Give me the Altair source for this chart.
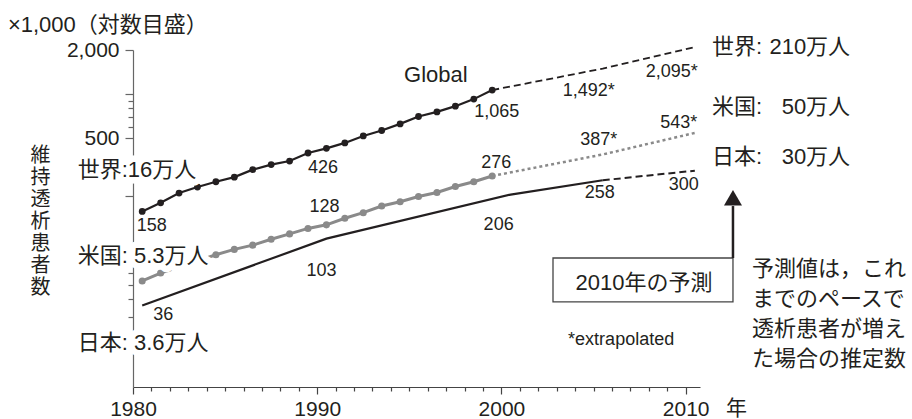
import altair as alt
import pandas as pd

# Maintenance dialysis patients (thousands of people), log scale
global_years = list(range(1980, 2000))
global_values = [158, 181, 211, 232, 252, 271, 305, 330, 349, 396,
                 426, 464, 518, 564, 626, 703, 756, 827, 924, 1065]
global_proj_years = [1999, 2005, 2010]
global_proj_values = [1065, 1492, 2095]

us_years = [1980, 1981, 1984, 1985, 1986, 1987, 1988, 1989, 1990,
            1991, 1992, 1993, 1994, 1995, 1996, 1997, 1998, 1999]
us_values = [53, 60, 80, 87, 93, 102, 111, 121, 128,
             142, 155, 172, 184, 200, 213, 234, 252, 276]
us_proj_years = [1999, 2005, 2010]
us_proj_values = [276, 387, 543]

japan_years = [1980, 1990, 2000, 2005]
japan_values = [36, 103, 206, 258]
japan_proj_years = [2005, 2010]
japan_proj_values = [258, 300]

y_ticks = [2000, 1000, 900, 800, 700, 600, 500, 200, 60, 50, 40, 30]
x_ticks = list(range(1980, 2011))

start_notes = ["世界:16万人", "米国: 5.3万人", "日本: 3.6万人"]
end_names = ["世界:", "米国:", "日本:"]
end_totals = ["210万人", "50万人", "30万人"]
y_title_chars = list("維持透析患者数")
note_lines = "予測値は，これ\nまでのペースで\n透析患者が増え\nた場合の推定数"

LATIN = "Liberation Sans"
JP = "Liberation Sans, Noto Sans CJK JP"
INK = "#231f20"
GREY = "#8a8a8a"


def frame(series, kind, years, values):
    return pd.DataFrame({"series": series, "kind": kind,
                         "year": years, "value": values})


data = pd.concat([
    frame("Global", "actual", global_years, global_values),
    frame("Global", "proj", global_proj_years, global_proj_values),
    frame("US", "actual", us_years, us_values),
    frame("US", "proj", us_proj_years, us_proj_values),
    frame("Japan", "actual", japan_years, japan_values),
    frame("Japan", "proj", japan_proj_years, japan_proj_values),
], ignore_index=True)

x_axis = alt.Axis(
    values=x_ticks,
    labelExpr="datum.value % 10 == 0 ? '' + datum.value : ''",
    tickSize={"condition": {"test": "datum.value % 10 == 0", "value": 7}, "value": 4},
    grid=False, labelFont=LATIN, labelFontSize=21, labelColor=INK,
    labelPadding=4, labelOverlap=False, labelFlush=False,
    domainColor="#444", tickColor="#444", domainWidth=1.2, tickWidth=1.2,
    title="年", titleFont=JP, titleFontSize=21, titleFontWeight="normal",
    titleColor=INK, titleX=603, titleY=21, titleAlign="center",
    titleBaseline="middle",
)
y_axis = alt.Axis(
    values=y_ticks,
    labelExpr="datum.value == 2000 || datum.value == 500 ? format(datum.value, ',') : ''",
    tickSize={"condition": {"test": "indexof([2000, 1000, 500, 200], datum.value) >= 0",
                            "value": 8}, "value": 5},
    grid=False, labelFont=LATIN, labelFontSize=21, labelColor=INK,
    labelPadding=6, labelOverlap=False, labelFlush=False,
    domainColor="#666", tickColor="#666", domainWidth=1.2, tickWidth=1.2,
    title=y_title_chars, titleFont=JP, titleFontSize=20, titleFontWeight="normal",
    titleColor=INK, titleAngle=0, titleX=-93, titleY=105, titleAlign="center",
    titleBaseline="middle", titleLineHeight=22,
)

x_enc = alt.X("t:Q", scale=alt.Scale(domain=[1980, 2010.78], nice=False, zero=False),
              axis=x_axis)
y_enc = alt.Y("value:Q", scale=alt.Scale(type="log", domain=[10, 2000], nice=False),
              axis=y_axis)

# each yearly value is drawn at mid-year
base = alt.Chart(data).transform_calculate(t="datum.year + 0.5")


def pick(series, kind):
    return base.transform_filter(
        f"datum.series == '{series}' && datum.kind == '{kind}'")


layers = [
    pick("US", "actual").mark_line(color=GREY, strokeWidth=3).encode(x=x_enc, y=y_enc),
    pick("US", "proj").mark_line(color=GREY, strokeWidth=2.5, strokeDash=[3, 3])
    .encode(x=x_enc, y=y_enc),
    pick("US", "actual").mark_circle(color=GREY, size=50, opacity=1)
    .encode(x=x_enc, y=y_enc),
    pick("Japan", "actual").mark_line(color=INK, strokeWidth=2.2).encode(x=x_enc, y=y_enc),
    pick("Japan", "proj").mark_line(color=INK, strokeWidth=2, strokeDash=[7, 4])
    .encode(x=x_enc, y=y_enc),
    pick("Global", "actual").mark_line(color=INK, strokeWidth=2.2).encode(x=x_enc, y=y_enc),
    pick("Global", "proj").mark_line(color=INK, strokeWidth=1.8, strokeDash=[7, 4])
    .encode(x=x_enc, y=y_enc),
    pick("Global", "actual").mark_circle(color=INK, size=46, opacity=1)
    .encode(x=x_enc, y=y_enc),
]

# value labels: (series, kind, year, dx, dy, suffix)
value_labels = [
    ("Global", "actual", 1980, 9.5, 15, ""),
    ("Global", "actual", 1990, -3.5, 20, ""),
    ("Global", "actual", 1999, 4.5, 22, ""),
    ("Global", "proj", 2005, -14, 22, "*"),
    ("Global", "proj", 2010, -23, 25, "*"),
    ("US", "actual", 1990, -2, -18, ""),
    ("US", "actual", 1999, 4, -13, ""),
    ("US", "proj", 2005, -4, -14.5, "*"),
    ("US", "proj", 2010, -16, -10, "*"),
    ("Japan", "actual", 1980, 21, 9.5, ""),
    ("Japan", "actual", 1990, -5, 32, ""),
    ("Japan", "actual", 2000, -12, 30, ""),
    ("Japan", "actual", 2005, -3, 13, ""),
    ("Japan", "proj", 2010, -11, 14, ""),
]
for series, kind, year, dx, dy, suffix in value_labels:
    layers.append(
        pick(series, kind).transform_filter(f"datum.year == {year}")
        .transform_calculate(label=f"format(datum.value, ',') + '{suffix}'")
        .mark_text(font=LATIN, fontSize=18, color=INK, dx=dx, dy=dy)
        .encode(x=x_enc, y=y_enc, text="label:N")
    )

# series names at the start of the lines, on a white halo over the axis
start_df = pd.DataFrame({"t": [1977.0] * 3, "value": [303, 78.4, 20.0],
                         "text": start_notes})
layers.append(alt.Chart(start_df).mark_text(
    align="left", baseline="middle", font=JP, fontSize=22, fill="white",
    stroke="white", strokeWidth=13, strokeJoin="round")
    .encode(x=x_enc, y=y_enc, text="text:N"))
layers.append(alt.Chart(start_df).mark_text(
    align="left", baseline="middle", font=JP, fontSize=22, color=INK)
    .encode(x=x_enc, y=y_enc, text="text:N"))

# 2010 totals at the end of the lines
end_name_df = pd.DataFrame({"t": [2011.43] * 3, "value": [2097, 816, 372],
                            "text": end_names})
end_total_df = pd.DataFrame({"t": [2018.93] * 3, "value": [2097, 816, 372],
                             "text": end_totals})
layers.append(alt.Chart(end_name_df).mark_text(
    align="left", baseline="middle", font=JP, fontSize=22, color=INK)
    .encode(x=x_enc, y=y_enc, text="text:N"))
layers.append(alt.Chart(end_total_df).mark_text(
    align="right", baseline="middle", font=JP, fontSize=22, color=INK)
    .encode(x=x_enc, y=y_enc, text="text:N"))

# free annotations
layers.append(alt.Chart(pd.DataFrame({"t": [1996.44], "value": [1350], "text": ["Global"]}))
              .mark_text(font=LATIN, fontSize=22, color=INK, baseline="middle")
              .encode(x=x_enc, y=y_enc, text="text:N"))
layers.append(alt.Chart(pd.DataFrame({"t": [1973.21], "value": [2963],
                                      "text": ["×1,000（対数目盛）"]}))
              .mark_text(font=JP, fontSize=22, color=INK, align="left", baseline="middle")
              .encode(x=x_enc, y=y_enc, text="text:N"))
layers.append(alt.Chart(pd.DataFrame({"t": [2003.62], "value": [20.9],
                                      "text": ["*extrapolated"]}))
              .mark_text(font=LATIN, fontSize=18, color=INK, align="left", baseline="middle")
              .encode(x=x_enc, y=y_enc, text="text:N"))
layers.append(alt.Chart(pd.DataFrame({"t": [2013.60], "value": [63.9], "text": [note_lines]}))
              .mark_text(font=JP, fontSize=22, color=INK, align="left", baseline="middle",
                         lineBreak="\n", lineHeight=30)
              .encode(x=x_enc, y=y_enc, text="text:N"))

# "2010年の予測" box with its arrow
box_df = pd.DataFrame({"t": [2002.80], "t2": [2012.57], "value": [76.0], "value2": [38.1]})
layers.append(alt.Chart(box_df).mark_rect(fillOpacity=0, stroke="#444", strokeWidth=1.3)
              .encode(x=x_enc, x2="t2:Q", y=y_enc, y2="value2:Q"))
layers.append(alt.Chart(pd.DataFrame({"t": [2007.74], "value": [51.0],
                                      "text": ["2010年の予測"]}))
              .mark_text(font=JP, fontSize=22, color=INK, baseline="middle")
              .encode(x=x_enc, y=y_enc, text="text:N"))
layers.append(alt.Chart(pd.DataFrame({"t": [2012.57], "value": [76.0], "value2": [172.0]}))
              .mark_rule(color=INK, strokeWidth=2.5)
              .encode(x=x_enc, y=y_enc, y2="value2:Q"))
layers.append(alt.Chart(pd.DataFrame({"t": [2012.57], "value": [195.8]}))
              .mark_point(shape="triangle-up", filled=True, size=324, color=INK, opacity=1)
              .encode(x=x_enc, y=y_enc))

chart = alt.layer(*layers).properties(
    width=567, height=337,
    padding={"left": 133, "top": 50, "right": 212, "bottom": 32},
    autosize=alt.AutoSizeParams(type="none"),
    background="white",
).configure_view(stroke=None)

chart.save("out.html", embed_options={"renderer": "svg", "actions": False})
